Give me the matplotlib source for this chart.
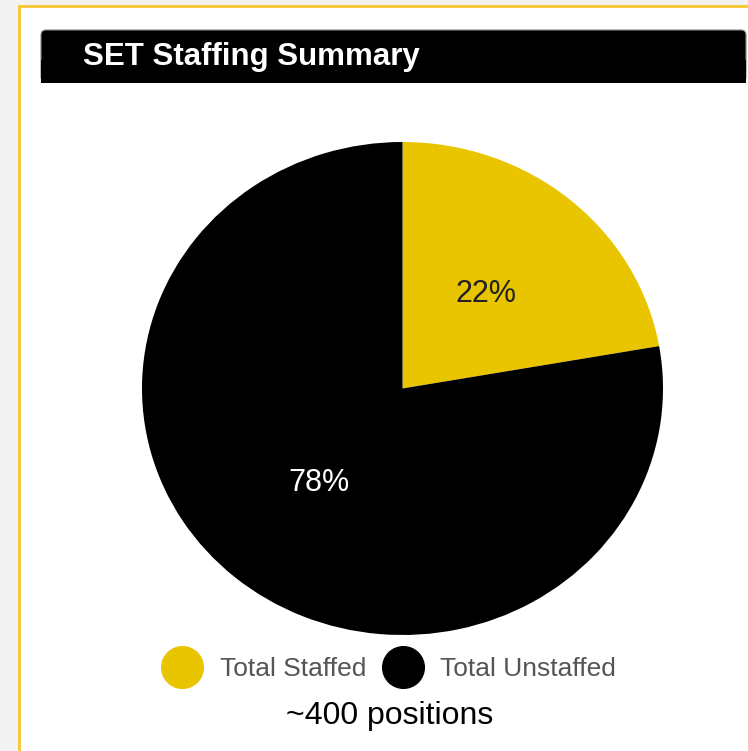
import matplotlib.pyplot as plt
from matplotlib.patches import FancyBboxPatch, Rectangle
from matplotlib.lines import Line2D

title = "SET Staffing Summary"
labels = ["Total Staffed", "Total Unstaffed"]
counts = [89, 311]
colors = ["#E9C500", "#000000"]
pct_colors = ["#222222", "#FFFFFF"]
note = "~400 positions"

W, H = 748, 751
fig = plt.figure(figsize=(W / 100, H / 100), dpi=100)
fig.patch.set_facecolor("#F3F3F3")

# background layer in pixel coords
bg = fig.add_axes([0, 0, 1, 1])
bg.set_xlim(0, W)
bg.set_ylim(H, 0)
bg.axis("off")
bg.add_patch(Rectangle((19, 6), W + 20, H, facecolor="white", edgecolor="#F8C52E", lw=2))
bg.add_patch(FancyBboxPatch((41, 30), 705, 52, boxstyle="round,pad=0,rounding_size=5",
                            facecolor="black", edgecolor="#888888", lw=0.8))
bg.add_patch(Rectangle((41, 60), 705, 23, facecolor="black", edgecolor="none"))
bg.text(83, 57, title, color="white", fontsize=22.5, fontweight="bold",
        family="Liberation Sans", va="center", ha="left")

# pie
ax = fig.add_axes([142 / W, 1 - 635 / H, 521 / W, 493 / H])
wedges, texts, autotexts = ax.pie(counts, colors=colors, startangle=90, counterclock=False,
                                  autopct="%1.0f%%", pctdistance=0.5,
                                  textprops={"fontsize": 22, "family": "Liberation Sans"})
for t, c in zip(autotexts, pct_colors):
    t.set_color(c)
ax.set_aspect("auto")
ax.set_xlim(-1, 1)
ax.set_ylim(-1, 1)

handles = [Line2D([], [], marker="o", ls="none", markersize=30, markerfacecolor=c,
                  markeredgecolor=c) for c in colors]
fig.legend(handles, labels, loc="center", bbox_to_anchor=(388.5 / W, 1 - 669 / H), ncol=2,
           frameon=False, handletextpad=0.62, columnspacing=0.58, handlelength=1.6,
           prop={"family": "Liberation Sans", "size": 19}, labelcolor="#555555")

fig.text(390 / W, 1 - 716 / H, note, fontsize=23, family="Liberation Sans",
         ha="center", va="center", color="black")

fig.savefig("out.png", dpi=100)
